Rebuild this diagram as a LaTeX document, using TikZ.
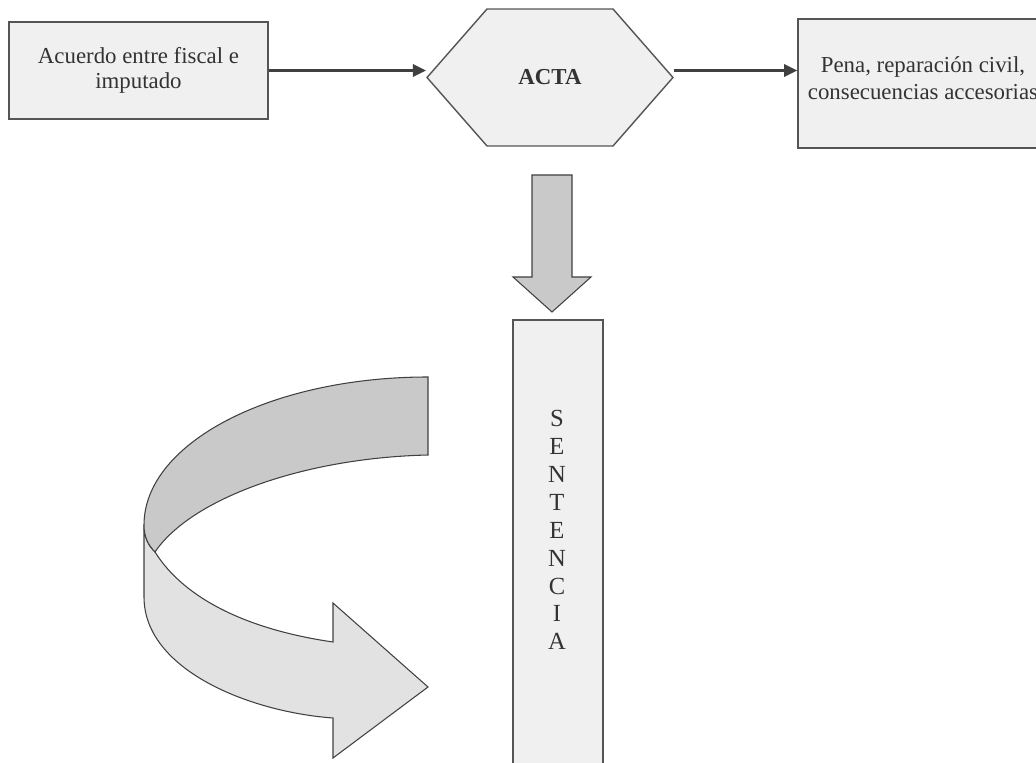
\documentclass[tikz,border=0pt]{standalone}
\usepackage{fontspec}
\setmainfont{Liberation Serif}
\usetikzlibrary{arrows.meta,shapes.symbols}
\definecolor{BoxFill}{HTML}{F0F0F0}
\definecolor{BoxLine}{HTML}{555555}
\definecolor{TextDark}{HTML}{333333}
\definecolor{BandDark}{HTML}{C9C9C9}
\definecolor{BandLight}{HTML}{E2E2E2}
\definecolor{LinkLine}{HTML}{404040}

\begin{document}
\begin{tikzpicture}[
	x=0.02cm, y=-0.02cm, % one unit = one pixel of the sketch, y downwards
	% Style for the plain grey boxes
	box grey/.style={
		draw=BoxLine,
		line width=0.9pt,
		fill=BoxFill,
		text=TextDark,
		font=\fontsize{13}{14.5}\selectfont,
		align=center,
		inner sep=0pt
	},
	% Style for the hexagon in the middle
	hex grey/.style={
		shape=signal,
		signal to=west and east,
		signal pointer angle=97.6,
		draw=BoxLine,
		line width=0.8pt,
		fill=BoxFill,
		text=TextDark,
		font=\fontsize{13}{15}\selectfont\bfseries,
		minimum width=4.92cm,
		minimum height=2.74cm,
		inner sep=0pt
	},
	% Style for the texts set apart from their box
	box text/.style={
		text=TextDark,
		align=center,
		inner sep=0pt
	},
	% Style for the thin connecting arrows
	link/.style={
		draw=LinkLine,
		line width=1.3pt,
		-{Triangle[length=7.5pt,width=7pt]}
	},
	% Styles for the block arrows
	band dark/.style={
		draw=LinkLine,
		line width=0.6pt,
		fill=BandDark
	},
	band light/.style={
		draw=LinkLine,
		line width=0.6pt,
		fill=BandLight
	}
	]
	
	\clip (0,0) rectangle (1036,763);
	
	% ================= NODES =================
	\node[box grey, minimum width=5.18cm, minimum height=1.94cm] (acuerdo) at (138.5,70.5) {Acuerdo entre fiscal e\\imputado};
	\node[hex grey] (acta) at (550,77.5) {ACTA};
	\node[box grey, minimum width=5cm, minimum height=2.58cm] (pena) at (923,83.5) {};
	\node[box text, font=\fontsize{13}{15}\selectfont] (penatext) at (923,78) {Pena, reparación civil,\\consecuencias accesorias};
	\node[box grey, minimum width=1.8cm, minimum height=9.6cm] (sentencia) at (558,560) {};
	\node[box text, font=\fontsize{14}{15.9}\selectfont] (sentext) at (557,530) {S\\E\\N\\T\\E\\N\\C\\I\\A};
	
	% ================= EDGES =================
	\draw[link] (acuerdo.east) -- (acuerdo.east -| acta.west);
	\draw[link] (acta.east |- acuerdo.east) -- (acuerdo.east -| pena.west);
	
	% block arrow from the acta down to the sentencia
	\draw[band dark] (532,175) -- (572,175) -- (572,277) -- (591,277)
		-- (552,312) -- (513,277) -- (532,277) -- cycle;
	
	% ================= RIBBON ARROW =================
	% lower, lighter part with the head
	\draw[band light] (144,525) -- (144,597)
		.. controls (144,670) and (250,712) .. (333,718)
		-- (333,758) -- (428,687) -- (333,603) -- (333,642)
		.. controls (250,630) and (185,600) .. (155,552)
		.. controls (149,546) and (144,538) .. cycle;
	% upper, darker part
	\draw[band dark] (428,377)
		.. controls (271,377) and (144,443) .. (144,525)
		.. controls (144,538) and (149,546) .. (155,552)
		.. controls (190,500) and (300,458) .. (428,455) -- cycle;
	
\end{tikzpicture}
\end{document}
